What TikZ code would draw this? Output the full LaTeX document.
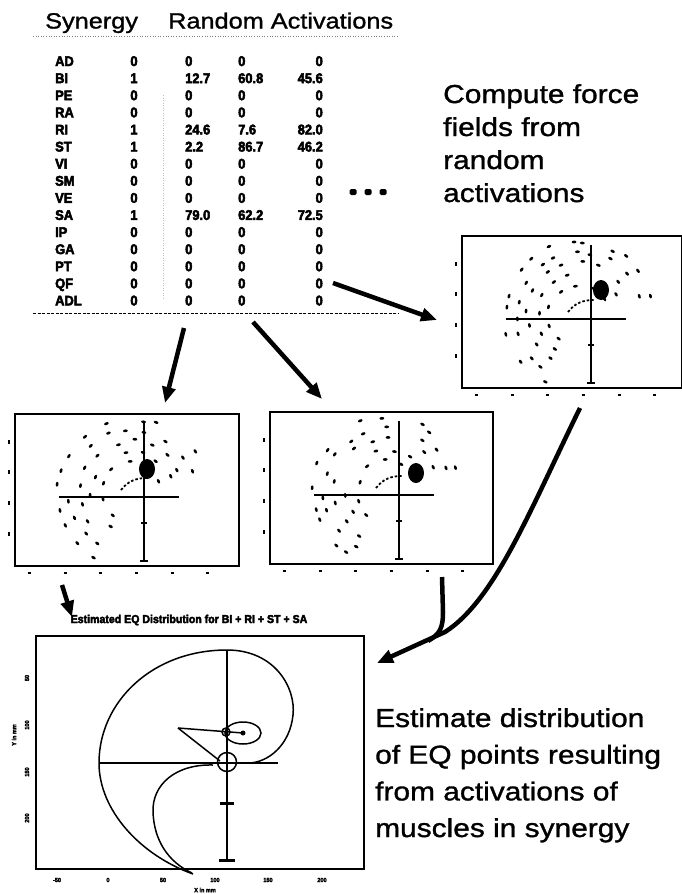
\documentclass[tikz,border=0pt]{standalone}
\usepackage{fontspec}
\setmainfont{Liberation Sans}
\newfontfamily\wf[FakeStretch=1.15,FakeBold=1.2]{Liberation Sans}
\newfontfamily\tf[FakeStretch=0.92,FakeBold=3.5]{Liberation Sans Bold}
\usetikzlibrary{arrows.meta}
\tikzset{
  bigarrow/.style={line width=4.5pt, -{Triangle[length=16pt,width=13pt]}},
  plotframe/.style={draw, line width=1.6pt, inner sep=0pt, minimum height=152pt},
  axisline/.style={line width=1.5pt},
  curve/.style={line width=1.5pt},
  head/.style={font=\wf\fontsize{22}{26}\selectfont, anchor=base west, inner sep=0pt},
  cell/.style={font=\tf\fontsize{14}{14}\selectfont, inner sep=0pt, anchor=base west},
  big/.style={font=\wf\fontsize{26}{30}\selectfont, anchor=base west, inner sep=0pt},
  tiny/.style={font=\tf\fontsize{6}{6}\selectfont, inner sep=0pt},
}
\newcommand\ffplot[7]{%
\begin{scope}[shift={(#1,#2)}]
  \node[plotframe, minimum width=#7pt, anchor=north west] (#6) at (-130,-84) {};
  \pgfmathsetseed{#5}
  \foreach \r/\n in {30/7,41/9,52/11,63/13,74/15}{
    \foreach \i in {1,...,\n}{
      \pgfmathsetmacro\ang{12+235*(\i-0.5)/\n+5*rand}
      \pgfmathsetmacro\rad{\r+2*rand}
      \pgfmathsetmacro\keep{rnd}
      \ifdim\keep pt>0.12pt
        \fill ({-12+\rad*cos(\ang)},{-4-\rad*sin(\ang)}) ellipse [x radius=1.4pt, y radius=2.4pt, rotate=\ang];
      \fi
    }
  }
  \draw[axisline] (0,-74) -- (0,64);
  \draw[axisline] (-85,0) -- (35,0);
  \draw[line width=2.2pt] (-4,64) -- (4,64);
  \draw[line width=2.2pt] (-3,26) -- (3,26);
  \fill (0,0) circle (1.5pt);
  \fill (#3,#4) ellipse [x radius=8pt, y radius=10pt];
  \draw[dash pattern=on 2.5pt off 2pt, line width=1.8pt] (-23,-7) .. controls (-16,-16) and (-8,-19) .. (3,-19);
  \foreach \t in {-55,-25,6,37} \draw[line width=1.6pt] (-135,\t-2) -- (-135,\t+2);
  \foreach \t in {-115,-79,-44,-8,28,63} \draw[line width=1.6pt] (\t-1.5,76) -- (\t+1.5,76);
\end{scope}}
\begin{document}
\begin{tikzpicture}[x=1pt,y=-1pt]
\fill[white] (0,0) rectangle (682,894);
\useasboundingbox (0,0) rectangle (682,894);

% ---------- table ----------
\node[head] (hsyn) at (45,28.5) {Synergy};
\node[head] (hrand) at (168,28.5) {Random Activations};
\draw[gray, dotted, line width=0.6pt] (33,36) -- (398,36);
\draw[gray!50, dotted, line width=0.5pt] (163,95) -- (163,300);
\foreach \m/\s/\a/\b/\c [count=\k from 0] in {
  AD/0/0/0/0, BI/1/12.7/60.8/45.6, PE/0/0/0/0, RA/0/0/0/0,
  RI/1/24.6/7.6/82.0, ST/1/2.2/86.7/46.2, VI/0/0/0/0, SM/0/0/0/0,
  VE/0/0/0/0, SA/1/79.0/62.2/72.5, IP/0/0/0/0, GA/0/0/0/0,
  PT/0/0/0/0, QF/0/0/0/0, ADL/0/0/0/0}{
  \pgfmathsetmacro\yy{66+17.1*\k}
  \node[cell] (m\k) at (55,\yy) {\m};
  \node[cell, anchor=base] (s\k) at (134,\yy) {\s};
  \node[cell] (a\k) at (185,\yy) {\a};
  \node[cell] (b\k) at (238,\yy) {\b};
  \node[cell, anchor=base east] (c\k) at (323,\yy) {\c};
}
\draw[dash pattern=on 3pt off 1.5pt, line width=0.8pt] (33,313) -- (398,313);
\foreach \x [count=\j] in {353,368,383}
  \node[fill, minimum width=7pt, minimum height=6pt, inner sep=0pt, rounded corners=1.5pt] (el\j) at (\x,192) {};

% ---------- texts right ----------
\node[big] (t1) at (443,103) {Compute force};
\node[big] (t2) at (443,136) {fields from};
\node[big] (t3) at (443,169) {random};
\node[big] (t4) at (443,202) {activations};

\node[big] (u1) at (375,727) {Estimate distribution};
\node[big] (u2) at (375,763.7) {of EQ points resulting};
\node[big] (u3) at (375,800.4) {from activations of};
\node[big] (u4) at (375,837) {muscles in synergy};

% ---------- force field plots ----------
\ffplot{591}{319}{10}{-29}{11}{pA}{220}
\ffplot{144}{497}{3}{-28}{23}{pB}{224}
\ffplot{399}{495}{17}{-22}{37}{pC}{223}

% ---------- EQ distribution plot ----------
\node[font=\tf\fontsize{11.5}{12}\selectfont, inner sep=0pt] (eqt) at (189,620) {Estimated EQ Distribution for BI + RI + ST + SA};
\node[draw, line width=1.6pt, minimum width=328pt, minimum height=233pt, inner sep=0pt, anchor=north west] (eq) at (35,635) {};
\draw[axisline] (227,650) -- (227,860);
\draw[line width=3pt] (219,860) -- (235,860);
\draw[line width=3pt] (220,803) -- (234,803);
\draw[axisline] (100,763) -- (278,763);
\draw[curve] (227,650) .. controls (152,650) and (99,702) .. (99,763)
  .. controls (99,810) and (140,855) .. (193,874);
\draw[curve] (227,650) .. controls (275,650) and (296,688) .. (293,715)
  .. controls (290,745) and (268,763) .. (248,763);
\draw[curve] (213,765) .. controls (175,764) and (152,785) .. (153,812)
  .. controls (154,840) and (168,862) .. (192,873);
\draw[curve] (227,762) circle (9.5pt);
\draw[curve] (243,733) ellipse [x radius=18pt, y radius=11pt];
\draw[curve] (226,732) circle (4pt);
\fill (243,733) circle (2.5pt);
\draw[curve] (178,728) -- (243,733);
\draw[curve] (178,728) -- (220,761);
\foreach \t/\l in {57/-50,108/0,163/50,215/100,268/150,322/200}
  \node[tiny] (xl\t) at (\t,880) {\l};
\foreach \t/\l in {678/50,725/100,772/150,818/200}
  \node[tiny, rotate=90] (yl\t) at (27,\t) {\l};
\node[tiny] (xt) at (205,890) {X in mm};
\node[tiny, rotate=90] (yt) at (14,735) {Y in mm};

% ---------- arrows ----------
\coordinate (a1s) at (333,283); \coordinate (a1e) at (437,320);
\coordinate (a2s) at (184,328); \coordinate (a2e) at (165,403);
\coordinate (a3s) at (253,322); \coordinate (a3e) at (322,399);
\coordinate (a4s) at (62,585);  \coordinate (a4e) at (72,617);
\coordinate (a5s) at (580,408); \coordinate (a5m) at (445,632); \coordinate (a5e) at (377,663);
\coordinate (a6s) at (442,577); \coordinate (a6m) at (443,612); \coordinate (a6e) at (428,641);
\draw[bigarrow] (a1s) -- (a1e);
\draw[bigarrow] (a2s) -- (a2e);
\draw[bigarrow] (a3s) -- (a3e);
\draw[bigarrow] (a4s) -- (a4e);
\draw[bigarrow] (a5s) .. controls (530,510) and (495,600) .. (a5m) -- (a5e);
\draw[line width=4.5pt] (a6s) -- (a6m) .. controls (443,628) and (440,634) .. (a6e);
\end{tikzpicture}
\end{document}
